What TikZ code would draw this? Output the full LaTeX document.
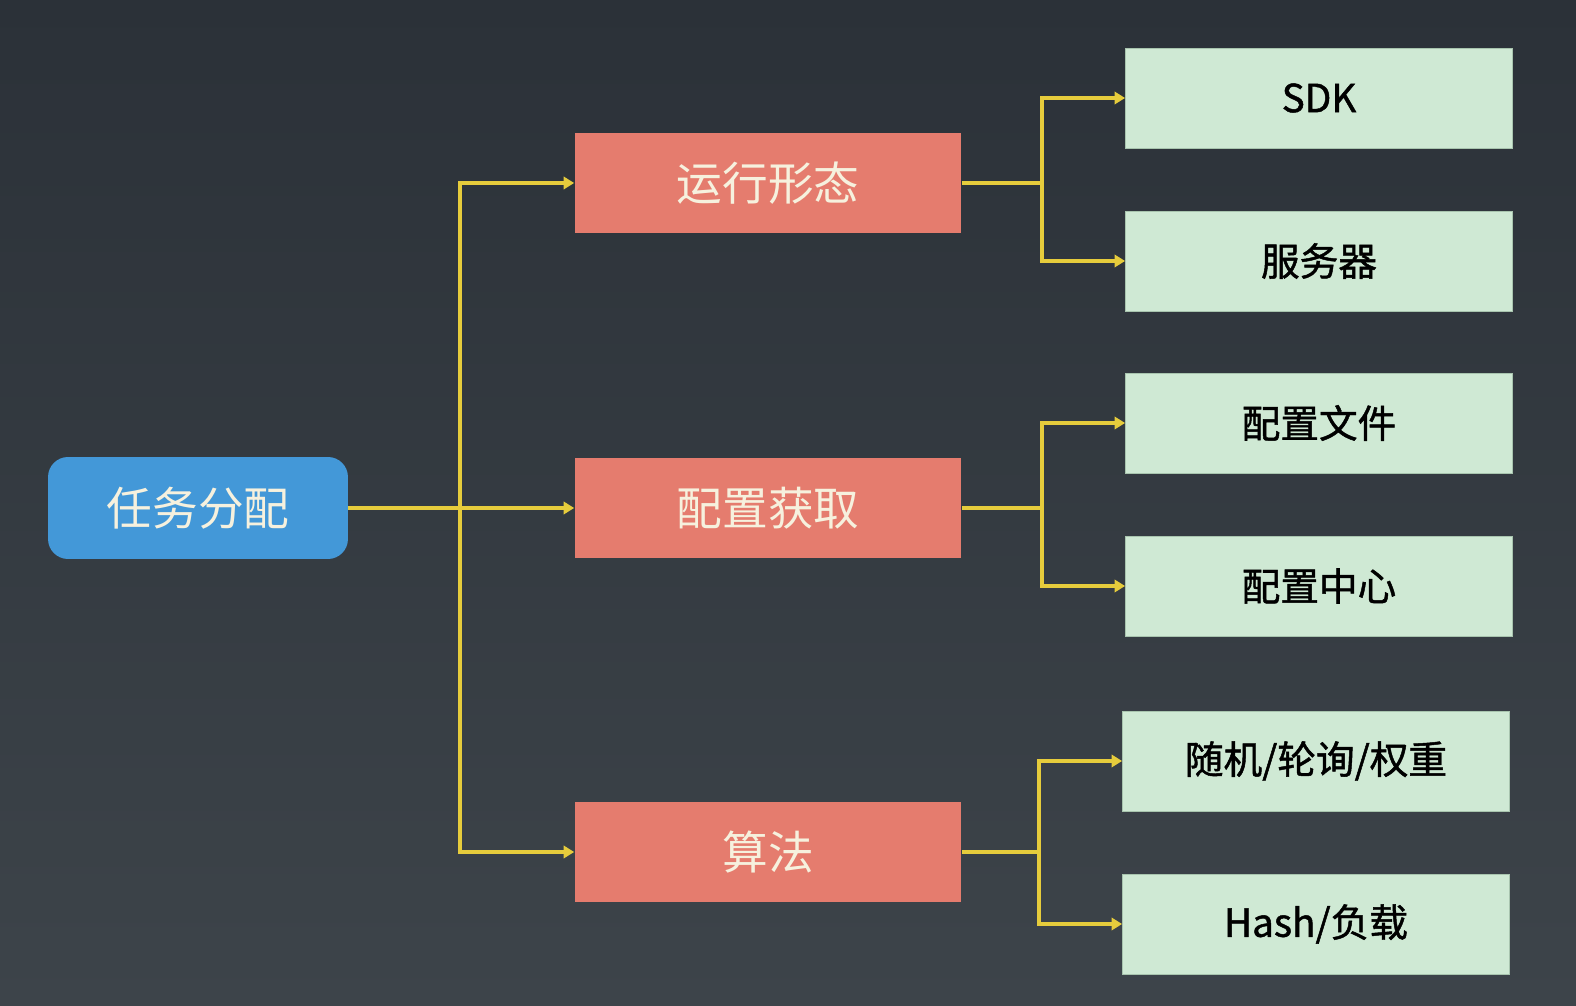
\documentclass[tikz,border=0pt]{standalone}
\usepackage{fontspec}
\setmainfont{Noto Sans CJK SC}
\newfontfamily\leaffont[FakeBold=1.2]{Noto Sans CJK SC}
\usetikzlibrary{arrows.meta,calc}
\definecolor{bgtop}{HTML}{2B3138}
\definecolor{bgbot}{HTML}{3D444A}
\definecolor{rootblue}{HTML}{4398D8}
\definecolor{midred}{HTML}{E57C6E}
\definecolor{leafgreen}{HTML}{CFE9D4}
\definecolor{leafedge}{HTML}{A8C4AE}
\definecolor{linkyellow}{HTML}{E6CC3C}
\definecolor{lighttext}{HTML}{F6F1DE}

\begin{document}
\begin{tikzpicture}[x=0.02cm,y=-0.02cm,
  rootbox/.style={fill=rootblue,rounded corners=0.4cm,minimum width=6cm,minimum height=2.04cm,
    text=lighttext,font=\fontsize{26}{30}\selectfont},
  midbox/.style={fill=midred,minimum width=7.74cm,minimum height=2cm,
    text=lighttext,font=\fontsize{26}{30}\selectfont},
  leafbox/.style={fill=leafgreen,draw=leafedge,line width=0.5pt,minimum width=7.74cm,minimum height=2cm,
    text=black,font=\leaffont\fontsize{22}{26}\selectfont},
  conn/.style={draw=linkyellow,line width=2.2pt,-{Triangle[length=6pt,width=7pt]}},
  link/.style={draw=linkyellow,line width=2.2pt}]
% background, dark gradient
\shade[top color=bgtop,bottom color=bgbot] (0,0) rectangle (1576,1006);
\useasboundingbox (0,0) rectangle (1576,1006);
% root
\node[rootbox] (task) at (198,508) {任务分配};
% second level
\node[midbox] (run) at (768,183) {运行形态};
\node[midbox] (cfg) at (768,508) {配置获取};
\node[midbox] (algo) at (768,852) {算法};
% leaves
\node[leafbox] (sdk) at (1319,98) {SDK};
\node[leafbox] (server) at (1319,261) {服务器};
\node[leafbox] (file) at (1319,423) {配置文件};
\node[leafbox] (center) at (1319,586) {配置中心};
\node[leafbox] (rand) at (1316,761) {随机/轮询/权重};
\node[leafbox] (hash) at (1316,924) {Hash/负载};
% junction points
\coordinate (trunk) at (460,508);
\coordinate (jrun) at (1042,183);
\coordinate (jcfg) at (1042,508);
\coordinate (jalgo) at (1039,852);
% root to second level
\draw[conn] (task) -- (cfg);
\draw[conn] (trunk) |- (run.west);
\draw[conn] (trunk) |- (algo.west);
% second level to leaves
\foreach \mid/\j/\up/\down in {run/jrun/sdk/server, cfg/jcfg/file/center, algo/jalgo/rand/hash}{
  \draw[link] (\mid.east) -- (\j);
  \draw[conn] (\j) |- (\up.west);
  \draw[conn] (\j) |- (\down.west);
}
\end{tikzpicture}
\end{document}
